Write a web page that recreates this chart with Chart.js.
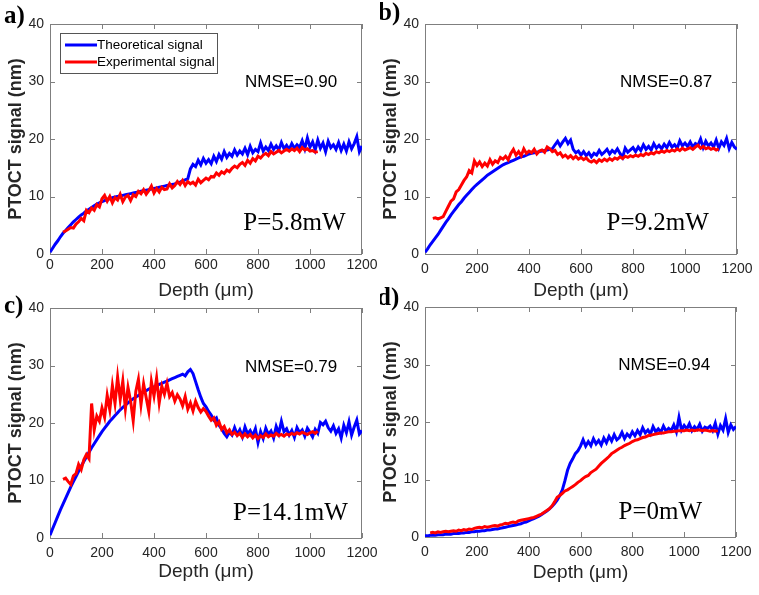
<!DOCTYPE html>
<html><head><meta charset="utf-8">
<script src="https://cdn.jsdelivr.net/npm/chart.js@4.4.1/dist/chart.umd.min.js"></script>
<style>
html,body{margin:0;padding:0;background:#fff;}
body{width:759px;height:595px;position:relative;overflow:hidden;}
canvas{position:absolute;}
</style></head><body>
<canvas id="ca" width="380" height="305" style="left:0;top:0"></canvas>
<canvas id="cb" width="379" height="305" style="left:380px;top:0"></canvas>
<canvas id="cc" width="380" height="310" style="left:0;top:285px"></canvas>
<canvas id="cd" width="379" height="310" style="left:380px;top:285px"></canvas>
<script>
// ---- sampling grid (depth in µm) ----
const STEP = 10;
const thStart = 0;
const exStartA = 50, exStartB = 30, exStartC = 50, exStartD = 20;

// ---- axis ticks ----
const depthTicks = [0, 200, 400, 600, 800, 1000, 1200];
const signalTicks = [0, 10, 20, 30, 40];

// ---- series labels ----
const seriesLabels = ['Theoretical signal', 'Experimental signal'];

// ---- panel a (P=5.8mW) ----
const thA = [0.3,1.0,1.7,2.3,3.0,3.6,
 4.1,4.6,5.1,5.6,6.0,
 6.4,6.8,7.1,7.5,7.8,8.1,8.4,8.7,8.9,9.1,
 9.3,9.5,9.6,9.8,9.9,10.0,10.1,10.2,10.3,10.4,
 10.5,10.6,10.7,10.8,10.9,11.0,11.1,11.2,11.3,11.4,
 11.5,11.6,11.7,11.8,11.9,12.0,12.1,12.2,12.4,12.5,
 12.7,12.9,13.1,
 14.8,15.6,15.2,16.3,15.5,16.6,15.8,
 16.4,15.7,17.0,16.1,17.3,16.5,17.8,16.8,17.5,17.0,
 18.1,17.2,17.9,17.4,18.4,17.3,18.7,17.6,18.2,17.8,
 19.3,17.9,18.6,18.0,19.1,18.2,18.8,18.1,19.4,18.3,
 18.9,18.2,19.2,18.4,19.0,18.5,19.7,18.3,20.2,18.6,
 19.5,18.1,19.8,18.4,19.3,17.8,19.6,18.5,19.0,18.2,
 19.4,18.0,19.1,17.9,19.5,18.3,19.2,20.4,17.8,18.8];
const exA = [3.8,4.0,4.3,4.6,4.5,5.2,
 5.6,6.2,5.8,7.6,7.2,8.0,7.6,8.6,8.2,9.6,
 10.2,9.2,10.0,8.9,9.8,9.4,10.4,9.1,9.9,10.2,
 9.3,10.3,10.0,10.9,10.5,11.2,10.4,11.0,11.8,10.6,
 11.4,10.8,11.6,11.2,11.3,12.2,11.5,11.9,12.6,12.1,
 12.8,11.9,12.6,12.2,12.5,12.0,13.0,12.4,12.8,13.2,
 12.9,13.5,13.4,14.1,13.7,14.3,14.0,14.6,14.3,14.9,
 15.3,15.0,15.6,15.9,15.4,16.3,15.8,16.6,16.2,17.0,
 16.7,17.2,17.5,17.1,17.8,17.4,17.7,18.0,17.6,17.9,
 18.2,17.9,18.3,18.0,18.4,17.8,18.5,18.1,18.3,17.9,
 18.0,17.7,17.8];

// ---- panel b (P=9.2mW) ----
const thB = [0.3,0.9,1.6,2.2,2.8,3.4,
 4.1,4.8,5.5,6.1,6.8,
 7.4,8.0,8.6,9.1,9.7,10.2,10.7,11.2,11.7,12.1,
 12.5,12.9,13.3,13.7,14.0,14.3,14.6,14.9,15.2,15.5,
 15.7,15.9,16.1,16.3,16.5,16.7,16.9,17.0,17.2,17.4,
 17.5,17.6,17.7,17.8,17.9,18.0,18.1,18.2,18.3,
 19.0,19.6,18.8,19.5,20.1,19.2,19.8,18.2,17.6,17.9,17.2,
 17.8,17.1,17.6,16.9,17.5,17.2,18.0,17.3,17.7,18.2,
 17.4,18.0,17.6,18.3,17.5,16.8,18.4,17.7,18.1,18.5,
 17.8,18.6,18.0,19.0,18.2,18.7,18.1,19.2,18.4,18.9,
 18.3,19.1,18.5,19.4,18.6,19.0,18.4,19.7,18.8,19.3,
 18.7,19.5,18.6,19.2,18.9,20.0,18.5,19.6,18.8,19.3,
 18.6,19.8,18.4,19.5,18.9,20.1,18.3,19.4,18.6,18.2];
const exB = [6.2,6.3,6.1,6.3,6.5,7.4,8.3,9.2,
 9.6,10.8,11.2,12.0,12.8,13.4,14.5,14.1,16.2,15.4,
 16.0,15.2,15.8,15.3,16.4,15.6,16.2,15.9,16.8,16.5,
 17.0,16.4,17.5,18.2,17.2,17.8,17.1,18.3,17.5,17.9,
 17.6,18.2,17.4,17.9,18.1,17.7,18.6,18.3,17.8,18.0,
 17.3,17.6,16.9,17.2,16.7,17.1,16.6,17.0,16.5,16.8,
 16.4,16.7,16.2,16.0,16.3,15.9,16.4,16.1,16.5,16.2,
 16.6,16.3,16.7,16.5,16.9,16.6,17.0,16.8,17.1,16.9,
 17.2,17.0,17.3,17.1,17.5,17.3,17.6,17.4,17.8,17.6,
 17.9,17.7,18.0,17.8,18.1,17.9,18.3,18.0,18.4,18.1,
 18.3,18.5,18.2,18.6,18.9,18.4,18.7,18.3,18.5,18.2,
 18.4,18.1,18.3];

// ---- panel c (P=14.1mW) ----
const thC = [0.5,1.6,2.7,3.8,4.9,5.9,
 6.9,7.9,8.9,9.8,10.7,
 11.6,12.5,13.3,14.1,14.9,15.7,16.4,17.1,17.8,18.5,
 19.1,19.7,20.3,20.8,21.3,21.8,22.3,22.7,23.1,23.5,
 23.9,24.2,24.5,24.8,25.1,25.4,25.6,25.9,26.1,26.3,
 26.5,26.7,26.9,27.1,27.3,27.5,27.7,27.9,28.1,28.3,
 28.5,28.2,28.9,29.3,28.6,27.2,25.8,24.5,23.4,22.8,
 22.0,21.4,20.5,20.9,19.6,19.0,18.2,17.6,18.4,17.9,
 19.2,18.0,18.8,17.6,19.3,18.1,18.7,17.8,19.0,16.6,
 18.5,17.3,19.1,18.0,18.6,17.4,19.4,18.2,20.3,18.5,
 19.0,17.9,18.7,17.5,19.2,18.3,18.8,17.7,19.1,18.4,
 17.6,18.9,18.2,20.1,19.7,20.3,19.2,18.6,19.5,18.2,
 19.0,17.4,19.6,18.3,20.2,17.9,19.3,20.5,18.1,18.7];
const exC = [10.2,10.4,9.8,9.3,10.8,11.2,
 12.8,11.9,13.6,14.5,13.8,23.4,18.8,21.2,20.3,22.6,
 21.0,24.8,22.3,26.5,23.4,28.0,24.1,27.3,22.5,26.2,
 23.8,20.4,25.5,27.6,23.2,26.8,24.4,22.0,27.2,24.7,
 27.8,23.5,26.4,25.0,26.9,24.6,25.3,23.8,24.9,24.2,
 23.0,24.6,22.4,23.5,22.1,23.8,22.7,21.9,22.5,22.0,
 21.2,20.5,20.9,19.6,20.2,18.9,19.4,18.3,18.8,18.0,
 18.4,17.8,18.2,17.5,18.1,17.6,18.0,17.4,17.9,17.3,
 17.8,17.5,18.1,17.6,17.9,17.7,18.2,17.8,18.0,17.7,
 18.1,17.9,18.2,18.0,18.3,18.1,18.4,18.2,18.0,18.3,
 18.5,18.2,18.6];

// ---- panel d (P=0mW) ----
const thD = [0.2,0.2,0.3,0.3,0.3,0.4,
 0.4,0.4,0.5,0.5,0.5,
 0.6,0.6,0.6,0.7,0.7,0.8,0.8,0.9,0.9,1.0,
 1.0,1.1,1.1,1.2,1.2,1.3,1.4,1.4,1.5,1.6,
 1.7,1.8,1.9,2.0,2.1,2.2,2.3,2.5,2.6,2.8,
 3.0,3.2,3.4,3.6,3.9,4.2,4.5,4.9,5.3,5.8,
 6.4,7.2,8.2,9.8,11.6,12.8,13.6,14.5,15.0,15.8,
 16.9,15.8,16.6,15.9,17.1,16.2,16.8,16.0,17.2,16.4,
 17.5,16.7,17.8,16.9,17.3,18.2,17.1,17.9,17.4,18.3,
 17.6,18.5,17.8,19.0,18.1,18.6,17.9,19.2,18.3,18.8,
 18.2,19.3,18.4,18.9,18.5,19.5,18.3,20.8,18.6,19.4,
 18.8,19.7,18.5,19.2,18.7,19.6,18.4,19.1,18.9,19.3,
 18.5,19.8,17.9,19.4,18.6,20.6,18.2,19.5,18.7,19.2];
const exD = [0.7,0.8,0.7,0.9,0.8,0.9,1.0,0.9,1.0,
 1.1,1.0,1.2,1.1,1.3,1.2,1.4,1.3,1.5,1.6,
 1.7,1.6,1.8,1.7,1.8,1.9,2.0,1.9,2.1,2.2,
 2.4,2.3,2.5,2.6,2.5,2.8,2.9,3.0,3.1,3.2,
 3.3,3.4,3.6,3.8,4.0,4.3,4.6,4.9,5.4,6.1,
 6.9,7.2,7.6,8.0,8.2,8.5,8.8,9.1,9.5,9.8,
 10.2,10.5,10.7,11.2,11.5,11.8,12.3,12.8,13.2,13.6,
 14.0,14.5,14.8,15.1,15.4,15.6,15.9,16.1,16.3,16.6,
 16.8,16.9,17.1,17.3,17.4,17.6,17.7,17.8,17.9,18.0,
 18.1,18.1,18.2,18.3,18.3,18.4,18.4,18.5,18.5,18.5,
 18.6,18.5,18.6,18.5,18.6,18.6,18.5,18.6,18.5,18.4,
 18.5,18.4,18.5];

// ---- panel annotations ----
const panelLabels = ['a)', 'b)', 'c)', 'd)'];
const nmseLabels = ['NMSE=0.90', 'NMSE=0.87', 'NMSE=0.79', 'NMSE=0.94'];
const powerLabels = ['P=5.8mW', 'P=9.2mW', 'P=14.1mW', 'P=0mW'];

function toPoints(start, values) {
  return values.map((v, i) => ({ x: start + i * STEP, y: v }));
}

const SANS = '"Liberation Sans", Arial, sans-serif';
const SERIF = '"Liberation Serif", "Times New Roman", serif';
const BLUE = '#0000ff', RED = '#ff0000', AXIS = '#7f7f7f', TXT = '#262626';

const framePlugin = {
  id: 'frame',
  beforeDatasetsDraw(chart) {
    const { ctx, chartArea: a, scales: { x, y } } = chart;
    ctx.save();
    ctx.strokeStyle = AXIS; ctx.lineWidth = 1;
    ctx.strokeRect(Math.round(a.left) + 0.5, Math.round(a.top) + 0.5,
      Math.round(a.right - a.left) - 1, Math.round(a.bottom - a.top));
    const L = 5;
    ctx.beginPath();
    x.ticks.forEach((t, i) => {
      const px = Math.round(x.getPixelForTick(i)) + 0.5;
      ctx.moveTo(px, a.bottom); ctx.lineTo(px, a.bottom - L);
      ctx.moveTo(px, a.top); ctx.lineTo(px, a.top + L);
    });
    y.ticks.forEach((t, i) => {
      const py = Math.round(y.getPixelForTick(i)) + 0.5;
      ctx.moveTo(a.left, py); ctx.lineTo(a.left + L, py);
      ctx.moveTo(a.right, py); ctx.lineTo(a.right - L, py);
    });
    ctx.stroke();
    ctx.restore();
  },
  afterDatasetsDraw(chart, args, opts) {
    const { ctx, scales: { x, y } } = chart;
    ctx.save();
    ctx.fillStyle = '#000';
    ctx.textAlign = 'center'; ctx.textBaseline = 'middle';
    ctx.font = '17px ' + SANS;
    ctx.fillText(opts.nmse, x.getPixelForValue(opts.nmsePos[0]), y.getPixelForValue(opts.nmsePos[1]));
    ctx.font = '25px ' + SERIF;
    ctx.fillText(opts.power, x.getPixelForValue(opts.powerPos[0]), y.getPixelForValue(opts.powerPos[1]));
    ctx.textAlign = 'left'; ctx.textBaseline = 'alphabetic';
    ctx.font = 'bold 25px ' + SERIF;
    ctx.fillText(opts.label, opts.labelPos[0], opts.labelPos[1]);
    if (opts.legend) {
      const lx = 60, ly = 33, lw = 157, lh = 40;
      ctx.fillStyle = '#fff';
      ctx.fillRect(lx, ly, lw, lh);
      ctx.strokeStyle = '#555'; ctx.lineWidth = 1;
      ctx.strokeRect(lx + 0.5, ly + 0.5, lw, lh);
      ctx.font = '13.5px ' + SANS; ctx.textBaseline = 'middle';
      const order = [1, 0];
      order.forEach((di, k) => {
        const ds = chart.data.datasets[di];
        const yy = ly + 12 + k * 17;
        ctx.strokeStyle = ds.borderColor; ctx.lineWidth = 3;
        ctx.beginPath(); ctx.moveTo(65, yy); ctx.lineTo(97, yy); ctx.stroke();
        ctx.fillStyle = '#000';
        ctx.fillText(ds.label, 97, yy);
      });
    }
    ctx.restore();
  }
};

function makeChart(id, th, exStart, ex, cfg, idx) {
  return new Chart(document.getElementById(id), {
    type: 'line',
    data: {
      datasets: [
        { label: seriesLabels[1], data: toPoints(exStart, ex), borderColor: RED, borderWidth: 3, pointRadius: 0, tension: 0 },
        { label: seriesLabels[0], data: toPoints(thStart, th), borderColor: BLUE, borderWidth: 3, pointRadius: 0, tension: 0 }
      ]
    },
    options: {
      responsive: false, animation: false, events: [],
      layout: { padding: { top: cfg.padTop, right: cfg.padRight, left: 0, bottom: 0 } },
      scales: {
        x: {
          type: 'linear', min: 0, max: 1200,
          afterBuildTicks: s => { s.ticks = depthTicks.map(v => ({ value: v })); },
          afterFit: s => { s.height = cfg.xH; s.paddingLeft = 0; s.paddingRight = 0; },
          grid: { display: false, drawTicks: false },
          border: { display: false },
          ticks: { color: TXT, font: { family: SANS, size: 14 }, padding: cfg.xTickPad, maxRotation: 0, autoSkip: false,
                   callback: v => String(v) },
          title: { display: true, text: 'Depth (μm)', color: TXT, font: { family: SANS, size: 19 }, padding: { top: 0, bottom: cfg.xTitlePad } }
        },
        y: {
          type: 'linear', min: 0, max: 40,
          afterBuildTicks: s => { s.ticks = signalTicks.map(v => ({ value: v })); },
          afterFit: s => { s.width = cfg.yW; s.paddingTop = 0; s.paddingBottom = 0; },
          grid: { display: false, drawTicks: false },
          border: { display: false },
          ticks: { color: TXT, font: { family: SANS, size: 14 }, padding: 6, autoSkip: false,
                   callback: v => String(v) },
          title: { display: true, text: 'PTOCT signal (nm)', color: TXT, font: { family: SANS, size: 18, weight: 'bold' }, padding: { top: cfg.yTitlePad, bottom: 0 } }
        }
      },
      plugins: {
        legend: { display: false }, tooltip: { enabled: false },
        frame: {
          label: panelLabels[idx], labelPos: cfg.labelPos,
          nmse: nmseLabels[idx], nmsePos: cfg.nmsePos,
          power: powerLabels[idx], powerPos: cfg.powerPos,
          legend: cfg.legend
        }
      }
    },
    plugins: [framePlugin]
  });
}

makeChart('ca', thA, exStartA, exA, { padTop: 24, padRight: 18, xH: 51, yW: 50, yTitlePad: 5, xTickPad: 3, xTitlePad: 3,
  labelPos: [4, 23], nmsePos: [927, 29.9], powerPos: [940, 5.4], legend: true }, 0);
makeChart('cb', thB, exStartB, exB, { padTop: 24, padRight: 22, xH: 51, yW: 45, yTitlePad: 0, xTickPad: 7, xTitlePad: 3,
  labelPos: [-2, 20], nmsePos: [927, 29.9], powerPos: [895, 5.4], legend: false }, 1);
makeChart('cc', thC, exStartC, exC, { padTop: 23, padRight: 18, xH: 57, yW: 50, yTitlePad: 5, xTickPad: 7, xTitlePad: 12,
  labelPos: [4, 28], nmsePos: [927, 29.7], powerPos: [925, 4.3], legend: false }, 2);
makeChart('cd', thD, exStartD, exD, { padTop: 22, padRight: 23, xH: 58, yW: 45, yTitlePad: 0, xTickPad: 7, xTitlePad: 11,
  labelPos: [-3, 20], nmsePos: [923, 29.9], powerPos: [908, 4.3], legend: false }, 3);
</script>
</body></html>
